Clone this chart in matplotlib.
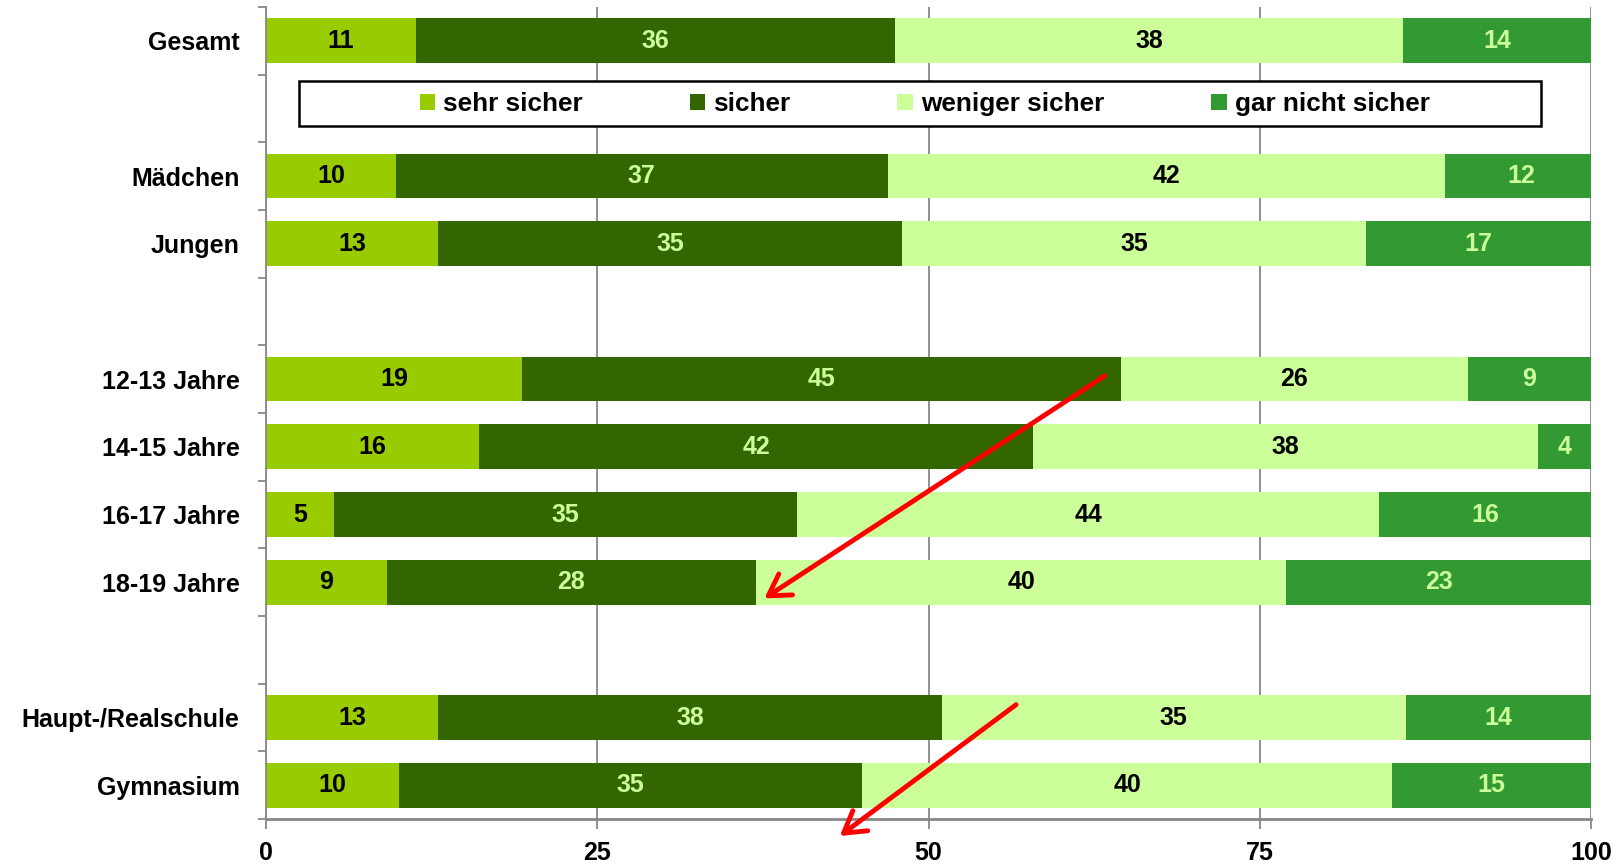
import numpy as np
import matplotlib
matplotlib.use("Agg")
import matplotlib.pyplot as plt
import matplotlib.transforms as mtransforms
from matplotlib.patches import Rectangle
from matplotlib.ticker import FixedLocator, NullFormatter

#=====================data===============
categories = ["Gesamt", "Mädchen", "Jungen",
              "12-13 Jahre", "14-15 Jahre", "16-17 Jahre", "18-19 Jahre",
              "Haupt-/Realschule", "Gymnasium"]
group_sizes = [1, 2, 4, 2]  # one empty row between the groups

series_names = ["sehr sicher", "sicher", "weniger sicher", "gar nicht sicher"]
sehr_sicher = [11.3, 9.8, 13.0, 19.3, 16.1, 5.1, 9.1, 13.0, 10.0]
sicher = [36.2, 37.1, 35.0, 45.2, 41.8, 35.0, 27.9, 38.0, 35.0]
weniger_sicher = [38.3, 42.1, 35.0, 26.2, 38.1, 43.9, 40.0, 35.0, 40.0]
gar_nicht_sicher = [14.2, 11.5, 17.0, 9.3, 4.0, 16.0, 23.0, 14.0, 15.0]

x_ticks = [0, 25, 50, 75, 100]

colors = ["#99CC00", "#336600", "#CCFF99", "#339933"]
label_colors = ["black", "#CCFF99", "black", "#CCFF99"]

#=====================layout===============
# row index of each category, with a blank row between groups
ypos = []
row = 0
for g, n in enumerate(group_sizes):
    for i in range(n):
        ypos.append(row)
        row += 1
    row += 1  # gap row
ypos = np.array(ypos)
n_rows = row - 1  # last gap not used

plt.rcParams['font.family'] = ['Liberation Sans', 'DejaVu Sans']
plt.rcParams['font.weight'] = 'bold'

fig = plt.figure(figsize=(16.22, 8.64), dpi=100)
ax = fig.add_axes([0.164, 0.052, 0.817, 0.940])

#====================Plot=======================
all_series = [sehr_sicher, sicher, weniger_sicher, gar_nicht_sicher]
left = np.zeros(len(categories))
handles = []
for k, vals in enumerate(all_series):
    vals = np.array(vals)
    bars = ax.barh(ypos, vals, left=left, height=0.66, color=colors[k],
                   edgecolor='none', label=series_names[k], zorder=2)
    handles.append(bars)
    for y, l, v in zip(ypos, left, vals):
        ax.text(l + v / 2, y, f"{v:.0f}", ha='center', va='center',
                color=label_colors[k], fontsize=18, fontweight='bold', zorder=3)
    left = left + vals

ax.set_xlim(0, 100)
ax.set_ylim(n_rows - 0.5, -0.5)

# x axis
ax.set_xticks(x_ticks)
ax.set_xticklabels([str(t) for t in x_ticks], fontsize=18, fontweight='bold')
ax.tick_params(axis='x', direction='out', length=7, width=1.3, color='#888888', pad=9)
ax.grid(axis='x', color='#888888', linewidth=1.3, zorder=0)
ax.set_axisbelow(True)

# y axis: labels at bar centers, tick marks at row boundaries
ax.set_yticks(ypos)
ax.set_yticklabels(categories, fontsize=18, fontweight='bold')
ax.tick_params(axis='y', which='major', length=0, pad=19)
ax.yaxis.set_minor_locator(FixedLocator(np.arange(-0.5, n_rows, 1.0)))
ax.yaxis.set_minor_formatter(NullFormatter())
ax.tick_params(axis='y', which='minor', direction='out', length=6, width=1.3, color='#888888')

for s in ['top', 'right']:
    ax.spines[s].set_visible(False)
ax.spines['left'].set_color('#888888')
ax.spines['left'].set_linewidth(1.3)
ax.spines['bottom'].set_color('#888888')
ax.spines['bottom'].set_linewidth(2)

# legend in the empty row under "Gesamt", with its own wide frame
trans = mtransforms.blended_transform_factory(ax.transAxes, ax.transData)
frame = Rectangle((0.025, 0.59), 0.937, 0.67, transform=trans, facecolor='white',
                  edgecolor='black', linewidth=1.8, zorder=4)
ax.add_patch(frame)
leg = ax.legend(handles=handles, loc='center', ncol=4,
                bbox_to_anchor=(0.497, 0.94), bbox_transform=trans,
                prop={'size': 18.8, 'weight': 'bold'}, frameon=False,
                handlelength=0.6, handleheight=0.6, handletextpad=0.3,
                columnspacing=4.1, borderaxespad=0, borderpad=0)
leg.set_zorder(5)

# red arrows
arrow_style = dict(arrowstyle='->, head_length=0.5, head_width=0.3', color='red',
                   lw=3.5, shrinkA=0, shrinkB=0, mutation_scale=30)
ax.annotate('', xy=(37.6, 8.24), xytext=(63.3, 4.95), arrowprops=arrow_style,
            annotation_clip=False, zorder=6)
ax.annotate('', xy=(43.3, 11.75), xytext=(56.6, 9.81), arrowprops=arrow_style,
            annotation_clip=False, zorder=6)

plt.savefig('out.png', dpi=100)
